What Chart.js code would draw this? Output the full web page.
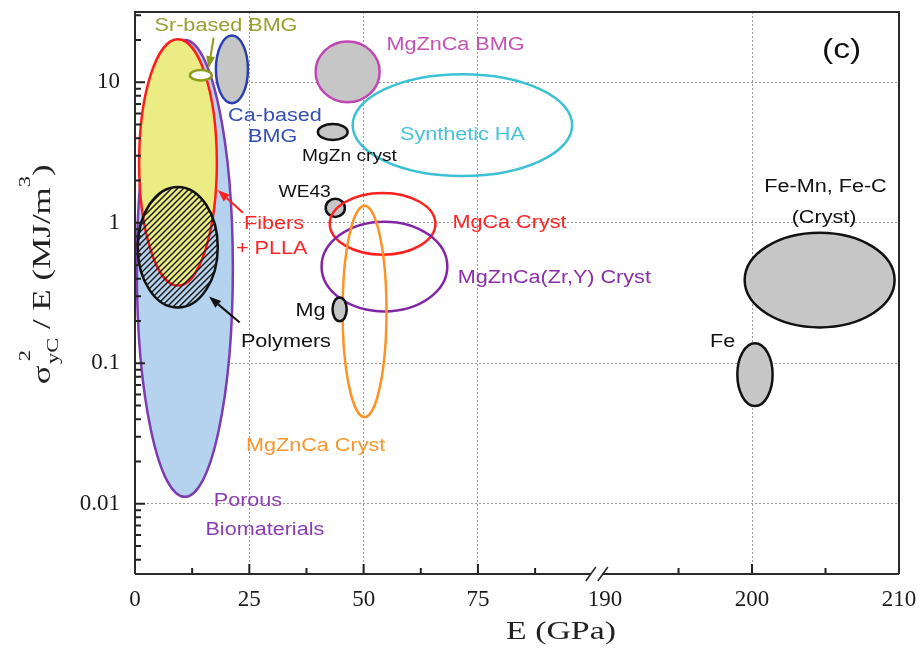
<!DOCTYPE html>
<html>
<head>
<meta charset="utf-8">
<script src="https://cdn.jsdelivr.net/npm/chart.js@4/dist/chart.umd.min.js"></script>
<style>
  html, body { margin: 0; padding: 0; background: #ffffff; }
  canvas { display: block; }
</style>
</head>
<body>
<canvas id="chart" width="921" height="651"></canvas>
<script>
// Material families: stiffness range E (GPa) and resilience range sigma_yC^2 / E (MJ/m^3)
const materials = [
  'Porous Biomaterials', 'Fibers + PLLA', 'Polymers', 'Sr-based BMG', 'Ca-based BMG',
  'MgZnCa BMG', 'Synthetic HA', 'MgZn cryst', 'WE43', 'MgCa Cryst',
  'MgZnCa(Zr,Y) Cryst', 'MgZnCa Cryst', 'Mg', 'Fe-Mn, Fe-C (Cryst)', 'Fe'
];
const eMin = [0.4, 0.9, 0.6, 12.0, 17.7, 39.5, 47.6, 40.0, 41.7, 42.6, 40.8, 45.4, 43.2, 199.5, 199.0];
const eMax = [21.4, 17.9, 18.1, 16.8, 24.7, 53.5, 95.6, 46.5, 45.9, 65.7, 68.3, 55.0, 46.3, 209.7, 201.4];
const resMin = [0.0112, 0.357, 0.249, 10.3, 7.1, 7.2, 2.15, 3.88, 1.10, 0.593, 0.234, 0.0414, 0.199, 0.180, 0.0496];
const resMax = [20.0, 20.2, 1.80, 12.2, 21.5, 19.5, 11.4, 5.04, 1.48, 1.63, 1.017, 1.32, 0.294, 0.849, 0.139];

// Axis ticks
const xTickValues = [0, 25, 50, 75, 190, 200, 210];
const xTickLabels = ['0', '25', '50', '75', '190', '200', '210'];
const xGridValues = [25, 50, 75, 200];
const xMinorValues = [12.5, 37.5, 62.5, 87.5, 195, 205];
const yTickValues = [0.01, 0.1, 1, 10];
const yTickLabels = ['0.01', '0.1', '1', '10'];

// Outline / fill styles, one per material
const strokeColors = ['#7d3cb0', '#ff1c1c', '#111111', '#8c9a1e', '#2a3fb0', '#c046b4', '#3cc0d4',
  '#111111', '#111111', '#ff2020', '#8226a6', '#ff9226', '#111111', '#111111', '#111111'];
const fillColors = ['#b5d3ee', '#ecec84', 'hatch', '#ffffff', '#c6c6c6', '#c6c6c6', null,
  '#c6c6c6', '#c6c6c6', null, null, null, '#c6c6c6', '#c6c6c6', '#c6c6c6'];

// Broken E axis: 0 to ~101 GPa at one scale, then 190-210 GPa at a larger scale
const BREAK_START = 190, BREAK_POS = 102.8, RIGHT_STRETCH = 3.214, BREAK_MARK = 101.0;
function toAxis(e) { return e >= 150 ? BREAK_POS + (e - BREAK_START) * RIGHT_STRETCH : e; }

// Text notes placed at (E, resilience) positions
const notes = [
  { text: 'Sr-based BMG', e: 19.9, r: 25.3, color: '#97a030', size: 18 },
  { text: 'MgZnCa BMG', e: 70.1, r: 18.3, color: '#c452b4', size: 18 },
  { text: '(c)', e: 206.1, r: 16.9, color: '#111111', size: 28 },
  { text: 'Ca-based', e: 30.6, r: 5.74, color: '#3450b4', size: 18 },
  { text: 'BMG', e: 30.1, r: 4.07, color: '#3450b4', size: 18 },
  { text: 'Synthetic HA', e: 71.6, r: 4.2, color: '#46c3d6', size: 18 },
  { text: 'MgZn cryst', e: 46.9, r: 2.94, color: '#111111', size: 16 },
  { text: 'WE43', e: 37.1, r: 1.63, color: '#111111', size: 16 },
  { text: 'Fibers', e: 30.4, r: 0.984, color: '#ff2424', size: 18 },
  { text: '+ PLLA', e: 29.9, r: 0.655, color: '#ff2424', size: 18 },
  { text: 'MgCa Cryst', e: 81.9, r: 1.0, color: '#ff2424', size: 18 },
  { text: 'MgZnCa(Zr,Y) Cryst', e: 91.7, r: 0.407, color: '#8a2ea6', size: 18 },
  { text: 'Mg', e: 38.4, r: 0.234, color: '#111111', size: 18 },
  { text: 'Polymers', e: 33.0, r: 0.141, color: '#111111', size: 18 },
  { text: 'MgZnCa Cryst', e: 39.5, r: 0.0258, color: '#f5962e', size: 18 },
  { text: 'Porous', e: 24.7, r: 0.0105, color: '#8a3eb0', size: 18 },
  { text: 'Biomaterials', e: 28.4, r: 0.00655, color: '#8a3eb0', size: 18 },
  { text: 'Fe-Mn, Fe-C', e: 205.0, r: 1.80, color: '#111111', size: 18 },
  { text: '(Cryst)', e: 204.9, r: 1.08, color: '#111111', size: 18 },
  { text: 'Fe', e: 198.0, r: 0.141, color: '#111111', size: 18 }
];
const pointers = [
  { from: [17.2, 20.8], to: [16.1, 12.6], color: '#8c9a1e' },
  { from: [23.6, 1.178], to: [18.1, 1.71], color: '#ff2020' },
  { from: [22.9, 0.195], to: [16.2, 0.298], color: '#111111' }
];

const SANS = '"Liberation Sans", Arial, sans-serif';
const SERIF = '"Liberation Serif", "Times New Roman", serif';
const TEXT_STRETCH = 1.2;

function stretchedText(ctx, text, x, y, sx) {
  ctx.save();
  ctx.translate(x, y);
  ctx.scale(sx, 1);
  ctx.fillText(text, 0, 0);
  ctx.restore();
}

// Each material is drawn as an ellipse spanning its E range and resilience range
const ellipsePlugin = {
  id: 'propertyEllipses',
  afterDatasetsDraw(chart) {
    const { ctx, scales: { x, y } } = chart;
    ctx.save();
    ctx.beginPath();
    ctx.rect(chart.chartArea.left, chart.chartArea.top,
      chart.chartArea.right - chart.chartArea.left, chart.chartArea.bottom - chart.chartArea.top);
    ctx.clip();
    chart.data.datasets.forEach((ds, i) => {
      const [p0, p1] = ds.data;
      const x0 = x.getPixelForValue(p0.x), x1 = x.getPixelForValue(p1.x);
      const y0 = y.getPixelForValue(p0.y), y1 = y.getPixelForValue(p1.y);
      const cx = (x0 + x1) / 2, cy = (y0 + y1) / 2;
      const rx = Math.abs(x1 - x0) / 2, ry = Math.abs(y1 - y0) / 2;
      const path = () => { ctx.beginPath(); ctx.ellipse(cx, cy, rx, ry, 0, 0, Math.PI * 2); };
      const fill = fillColors[i];
      if (fill === 'hatch') {
        ctx.save();
        path();
        ctx.clip();
        ctx.strokeStyle = '#1a1a1a';
        ctx.lineWidth = 1.4;
        ctx.beginPath();
        for (let k = -2 * ry; k < 2 * rx + 2 * ry; k += 6) {
          const sx0 = cx - rx + k - 2 * ry;
          ctx.moveTo(sx0, cy + ry);
          ctx.lineTo(sx0 + 2 * ry, cy - ry);
        }
        ctx.stroke();
        ctx.restore();
      } else if (fill) {
        path();
        ctx.fillStyle = fill;
        ctx.fill();
      }
      path();
      ctx.strokeStyle = strokeColors[i];
      ctx.lineWidth = 2.5;
      ctx.stroke();
    });
    ctx.restore();
  }
};

// Frame, inward tick marks, axis break, titles, notes and pointers
const decorPlugin = {
  id: 'decor',
  afterDraw(chart) {
    const { ctx, chartArea: a, scales: { x, y } } = chart;
    ctx.save();

    // inward tick marks
    ctx.strokeStyle = '#222222';
    ctx.lineWidth = 2;
    ctx.beginPath();
    xTickValues.forEach(v => {
      if (v === 0 || v === 190 || v === 210) return;
      const px = x.getPixelForValue(toAxis(v));
      ctx.moveTo(px, a.bottom); ctx.lineTo(px, a.bottom - 10);
    });
    xMinorValues.forEach(v => {
      const px = x.getPixelForValue(toAxis(v));
      ctx.moveTo(px, a.bottom); ctx.lineTo(px, a.bottom - 6);
    });
    for (let ex = -3; ex <= 1; ex++) {
      for (let m = 1; m <= 9; m++) {
        const v = m * Math.pow(10, ex);
        if (v < y.min || v > y.max) continue;
        const py = y.getPixelForValue(v);
        ctx.moveTo(a.left, py); ctx.lineTo(a.left + (m === 1 ? 10 : 6), py);
      }
    }
    ctx.stroke();

    // frame with a break in the E axis
    const bx = x.getPixelForValue(BREAK_MARK);
    ctx.strokeStyle = '#2b2b2b';
    ctx.lineWidth = 2;
    ctx.beginPath();
    ctx.moveTo(a.left, a.bottom); ctx.lineTo(a.left, a.top);
    ctx.lineTo(a.right, a.top); ctx.lineTo(a.right, a.bottom);
    ctx.moveTo(a.left, a.bottom); ctx.lineTo(bx - 6, a.bottom);
    ctx.moveTo(bx + 6, a.bottom); ctx.lineTo(a.right, a.bottom);
    ctx.stroke();
    ctx.lineWidth = 1.6;
    ctx.beginPath();
    [-6, 6].forEach(dx => {
      ctx.moveTo(bx + dx - 5, a.bottom + 7);
      ctx.lineTo(bx + dx + 5, a.bottom - 7);
    });
    ctx.stroke();

    // pointers
    pointers.forEach(p => {
      const fx = x.getPixelForValue(toAxis(p.from[0])), fy = y.getPixelForValue(p.from[1]);
      const tx = x.getPixelForValue(toAxis(p.to[0])), ty = y.getPixelForValue(p.to[1]);
      const ang = Math.atan2(ty - fy, tx - fx);
      const head = 12, half = 4.5;
      const bxh = tx - head * Math.cos(ang), byh = ty - head * Math.sin(ang);
      ctx.strokeStyle = p.color; ctx.fillStyle = p.color; ctx.lineWidth = 2;
      ctx.beginPath(); ctx.moveTo(fx, fy); ctx.lineTo(bxh, byh); ctx.stroke();
      ctx.beginPath();
      ctx.moveTo(tx, ty);
      ctx.lineTo(bxh + half * Math.sin(ang), byh - half * Math.cos(ang));
      ctx.lineTo(bxh - half * Math.sin(ang), byh + half * Math.cos(ang));
      ctx.closePath(); ctx.fill();
    });

    // notes
    ctx.textAlign = 'center';
    ctx.textBaseline = 'middle';
    notes.forEach(n => {
      ctx.font = n.size + 'px ' + SANS;
      ctx.fillStyle = n.color;
      stretchedText(ctx, n.text, x.getPixelForValue(toAxis(n.e)), y.getPixelForValue(n.r), TEXT_STRETCH);
    });

    // E axis title
    ctx.fillStyle = '#222222';
    ctx.font = '26px ' + SERIF;
    stretchedText(ctx, 'E (GPa)', 561, 632, 1.3);

    // resilience axis title, rotated, with sub/superscripts
    ctx.save();
    ctx.translate(50, 275);
    ctx.rotate(-Math.PI / 2);
    ctx.scale(1.4, 1.05);
    ctx.textAlign = 'left';
    ctx.textBaseline = 'alphabetic';
    const big = '25px ' + SERIF, small = '16px ' + SERIF;
    ctx.font = big;
    const wSig = ctx.measureText('\u03c3').width;
    const mid = ' / E (MJ/m';
    const wMid = ctx.measureText(mid).width;
    const wClose = ctx.measureText(')').width;
    ctx.font = small;
    const wSub = Math.max(ctx.measureText('yC').width, ctx.measureText('2').width);
    const w3 = ctx.measureText('3').width;
    let cx = -(wSig + wSub + wMid + w3 + wClose) / 2;
    ctx.font = big; ctx.fillText('\u03c3', cx, 0); cx += wSig + 1;
    ctx.font = small; ctx.fillText('2', cx + 2, -19); ctx.fillText('yC', cx, 8); cx += wSub;
    ctx.font = big; ctx.fillText(mid, cx, 0); cx += wMid;
    ctx.font = small; ctx.fillText('3', cx, -19); cx += w3;
    ctx.font = big; ctx.fillText(')', cx, 0);
    ctx.restore();

    ctx.restore();
  }
};

const datasets = materials.map((name, i) => ({
  label: name,
  data: [{ x: toAxis(eMin[i]), y: resMin[i] }, { x: toAxis(eMax[i]), y: resMax[i] }],
  pointRadius: 0,
  showLine: false
}));

new Chart(document.getElementById('chart'), {
  type: 'scatter',
  data: { datasets },
  options: {
    responsive: false,
    animation: false,
    events: [],
    layout: { padding: { top: 12, right: 22, left: 0, bottom: 0 } },
    plugins: { legend: { display: false }, tooltip: { enabled: false } },
    scales: {
      x: {
        type: 'linear',
        min: 0,
        max: toAxis(210),
        afterBuildTicks: s => { s.ticks = xTickValues.map(v => ({ value: toAxis(v) })); },
        afterFit: s => { s.height = 77; s.paddingLeft = 0; s.paddingRight = 0; },
        ticks: {
          autoSkip: false, maxRotation: 0, padding: 12, color: '#1a1a1a',
          font: { family: SERIF, size: 23 },
          callback: (v, i) => xTickLabels[i]
        },
        grid: {
          drawTicks: false,
          lineWidth: 1,
          color: c => xGridValues.includes(xTickValues[c.index]) ? '#9a9a9a' : 'rgba(0,0,0,0)'
        },
        border: { display: false, dash: [2, 2] }
      },
      y: {
        type: 'logarithmic',
        min: Math.pow(10, -2.5),
        max: Math.pow(10, 1.5),
        afterBuildTicks: s => { s.ticks = yTickValues.map(v => ({ value: v })); },
        afterFit: s => { s.width = 135; s.paddingTop = 0; s.paddingBottom = 0; },
        ticks: {
          autoSkip: false, padding: 15, color: '#1a1a1a',
          font: { family: SERIF, size: 23 },
          callback: (v, i) => yTickLabels[i]
        },
        grid: { drawTicks: false, lineWidth: 1, color: '#9a9a9a' },
        border: { display: false, dash: [2, 2] }
      }
    }
  },
  plugins: [ellipsePlugin, decorPlugin]
});
</script>
</body>
</html>
